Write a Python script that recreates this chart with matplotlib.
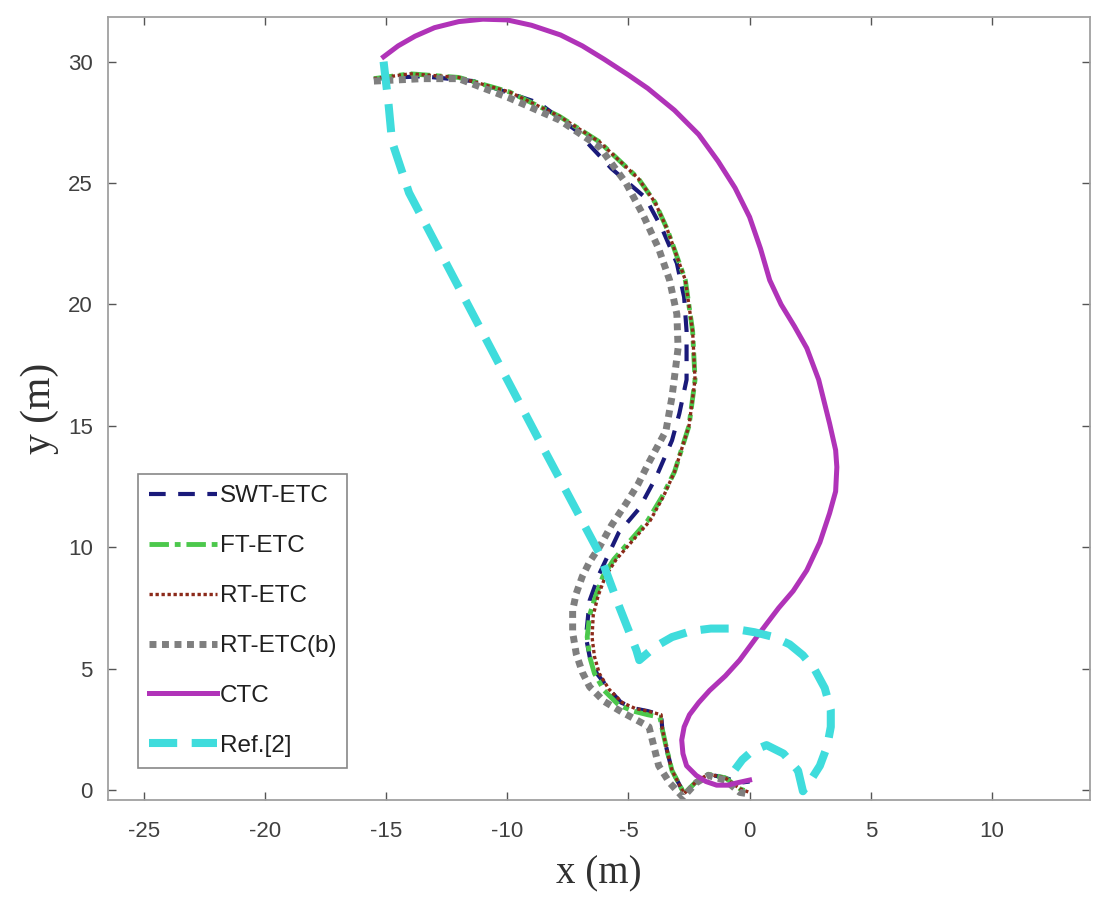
import matplotlib
matplotlib.use("Agg")
from matplotlib import pyplot as plt

plt.rcParams["axes.unicode_minus"] = False

# ^ trajectories (x, y in metres)
swt_x = [-15.5, -13.5, -11.4, -8.7, -7.2, -5.7, -4.3, -3.6, -3.0, -2.7, -2.6, -2.6,
         -2.9, -3.2, -3.85, -4.55, -5.4, -6.2, -6.6, -6.75, -6.6, -6.3, -5.8, -5.3,
         -4.7, -4.2, -3.65, -3.6, -3.4, -3.2, -2.7, -2.2, -1.7, -1.0, -0.4, 0.0]
swt_y = [29.3, 29.4, 29.2, 28.3, 27.2, 25.6, 24.4, 23.1, 21.7, 20.3, 18.9, 16.9,
         15.5, 14.4, 12.9, 11.6, 10.6, 8.9, 7.8, 6.3, 5.5, 4.8, 4.15, 3.6,
         3.35, 3.25, 3.1, 2.5, 1.6, 0.8, -0.15, 0.35, 0.65, 0.5, 0.3, 0.35]

ft_x = [-15.5, -14.0, -12.0, -9.9, -7.85, -6.2, -4.6, -3.9, -3.4, -2.65, -2.35, -2.25,
        -2.5, -3.1, -3.6, -4.2, -4.9, -5.6, -6.05, -6.35, -6.6, -6.7, -6.6, -6.4,
        -6.0, -5.4, -4.8, -4.2, -3.7, -3.6, -3.4, -3.2, -2.7, -2.2, -1.7, -1.0,
        -0.4, 0.0]
ft_y = [29.3, 29.5, 29.35, 28.75, 27.75, 26.7, 25.2, 24.2, 23.1, 21.0, 18.9, 16.9,
        15.0, 13.1, 12.1, 11.1, 10.3, 9.5, 8.8, 8.0, 7.2, 6.3, 5.5, 4.8,
        4.1, 3.5, 3.25, 3.1, 3.0, 2.5, 1.6, 0.8, -0.15, 0.35, 0.65, 0.5,
        0.05, -0.1]

rt_x = [-15.5, -14.0, -12.0, -9.9, -7.85, -6.2, -4.6, -3.9, -3.4, -2.65, -2.35, -2.25,
        -2.5, -3.1, -3.55, -4.1, -4.8, -5.5, -5.95, -6.25, -6.45, -6.5, -6.4, -6.2,
        -5.8, -5.25, -4.7, -4.2, -3.65, -3.6, -3.4, -3.2, -2.7, -2.2, -1.7, -1.0,
        -0.4, 0.0]
rt_y = [29.3, 29.5, 29.35, 28.75, 27.75, 26.7, 25.2, 24.2, 23.1, 21.0, 18.9, 16.9,
        15.0, 13.1, 12.1, 11.1, 10.3, 9.5, 8.8, 8.0, 7.2, 6.3, 5.5, 4.8,
        4.15, 3.6, 3.35, 3.25, 3.1, 2.5, 1.6, 0.8, -0.15, 0.35, 0.65, 0.5,
        0.05, -0.1]

rtb_x = [-15.5, -13.5, -12.0, -9.9, -7.85, -6.2, -5.1, -4.4, -3.75, -3.3, -3.0, -2.95,
         -3.2, -3.45, -4.15, -4.6, -5.1, -5.7, -6.2, -6.6, -6.9, -7.15, -7.3, -7.3,
         -7.15, -6.9, -6.6, -6.0, -5.25, -4.6, -4.15, -3.95, -3.75, -3.3, -2.75,
         -2.2, -1.7, -1.0, -0.4, -0.1]
rtb_y = [29.2, 29.3, 29.3, 28.5, 27.6, 26.5, 25.0, 23.7, 22.3, 21.0, 19.6, 18.2,
         16.2, 14.8, 13.5, 12.6, 11.8, 10.9, 10.0, 9.4, 8.8, 8.1, 7.4, 6.5,
         5.6, 4.85, 4.25, 3.65, 3.2, 2.85, 2.6, 1.8, 1.0, 0.3, -0.3,
         0.3, 0.6, 0.4, -0.1, -0.15]

ctc_x = [-15.1, -14.5, -13.8, -13.0, -12.0, -11.0, -10.0, -9.0, -7.8, -6.9, -6.0,
         -5.0, -4.2, -3.1, -2.1, -1.3, -0.6, 0.0, 0.45, 0.83, 1.3, 1.85, 2.36,
         2.85, 3.3, 3.55, 3.6, 3.55, 3.3, 2.9, 2.36, 1.8, 1.2, 0.41, -0.41,
         -1.0, -1.65, -2.1, -2.48, -2.7, -2.8, -2.75, -2.6, -2.2, -1.8, -1.36,
         -0.9, -0.5, 0.0]
ctc_y = [30.2, 30.65, 31.05, 31.4, 31.65, 31.75, 31.72, 31.5, 31.1, 30.65, 30.1,
         29.45, 28.9, 28.0, 27.0, 25.9, 24.8, 23.6, 22.3, 21.0, 20.0, 19.1, 18.2,
         16.9, 15.1, 14.0, 13.3, 12.3, 11.4, 10.2, 9.05, 8.2, 7.5, 6.46, 5.35,
         4.7, 4.1, 3.6, 3.1, 2.6, 2.06, 1.5, 1.0, 0.6, 0.35, 0.2,
         0.2, 0.3, 0.41]

ref_x = [-15.1, -14.9, -14.75, -14.05, -8.68, -6.2, -5.37, -4.67, -4.55, -3.9,
         -3.2, -2.4, -1.6, -0.7, 0.2, 1.0, 1.65, 2.2, 2.7, 3.1, 3.35, 3.35,
         3.2, 2.9, 2.55, 2.2, 2.0, 1.4, 0.7, 0.1, -0.3, -0.6]
ref_y = [30.0, 28.3, 26.7, 24.6, 14.4, 9.75, 7.53, 5.76, 5.35, 5.9,
         6.3, 6.55, 6.65, 6.65, 6.5, 6.3, 6.0, 5.55, 4.94, 4.2, 3.3, 2.6,
         1.8, 1.0, 0.45, -0.05, 0.8, 1.5, 1.85, 1.6, 1.25, 0.85]

sans = "Liberation Sans"
serif = "Liberation Serif"

# ^ figure
fig = plt.figure(figsize=(10.94, 9.07), dpi=100)
ax = fig.add_axes([0.0987, 0.118, 0.898, 0.863])

ax.plot(swt_x, swt_y, color="#1a1a7a", lw=3, linestyle=(0, (4, 3)), label="SWT-ETC")
ax.plot(ft_x, ft_y, color="#4cc84c", lw=3.5, linestyle=(0, (4, 1.2, 1.2, 1.2)), label="FT-ETC")
ax.plot(rt_x, rt_y, color="#8c2a1a", lw=2.4, linestyle=(0, (1, 0.8)), label="RT-ETC")
ax.plot(rtb_x, rtb_y, color="#7f7f7f", lw=5, linestyle=(0, (1, 0.8)), label="RT-ETC(b)")
ax.plot(ctc_x, ctc_y, color="#b033b8", lw=3.6, label="CTC")
ax.plot(ref_x, ref_y, color="#3fdcdc", lw=5.8, linestyle=(0, (3.5, 1.8)), label="Ref.[2]")

ax.set_xlim(-26.47, 14.06)
ax.set_ylim(-0.41, 31.83)
ax.set_xticks([-25, -20, -15, -10, -5, 0, 5, 10])
ax.set_yticks([0, 5, 10, 15, 20, 25, 30])

ax.tick_params(direction="in", top=True, right=True, length=6, width=1,
               color="#555555", labelsize=16, labelcolor="#404040")
ax.tick_params(axis="x", pad=15)
ax.tick_params(axis="y", pad=11)
for lab in ax.get_xticklabels() + ax.get_yticklabels():
    lab.set_family(sans)
for sp in ax.spines.values():
    sp.set_color("#a0a0a0")
    sp.set_linewidth(1.3)

ax.set_xlabel("x (m)", family=serif, fontsize=28, color="#303030", labelpad=10)
ax.set_ylabel("y (m)", family=serif, fontsize=30, color="#303030", labelpad=6)

leg = ax.legend(loc="lower left", bbox_to_anchor=(0.031, 0.041), fancybox=False,
                framealpha=1, edgecolor="#888888", borderpad=0.45, labelspacing=1.15,
                handlelength=2.8, handletextpad=0.1, borderaxespad=0,
                prop={"family": sans, "size": 17.5})
leg.get_frame().set_linewidth(1.2)
for t in leg.get_texts():
    t.set_color("#202020")

fig.savefig("out.png", dpi=100)
